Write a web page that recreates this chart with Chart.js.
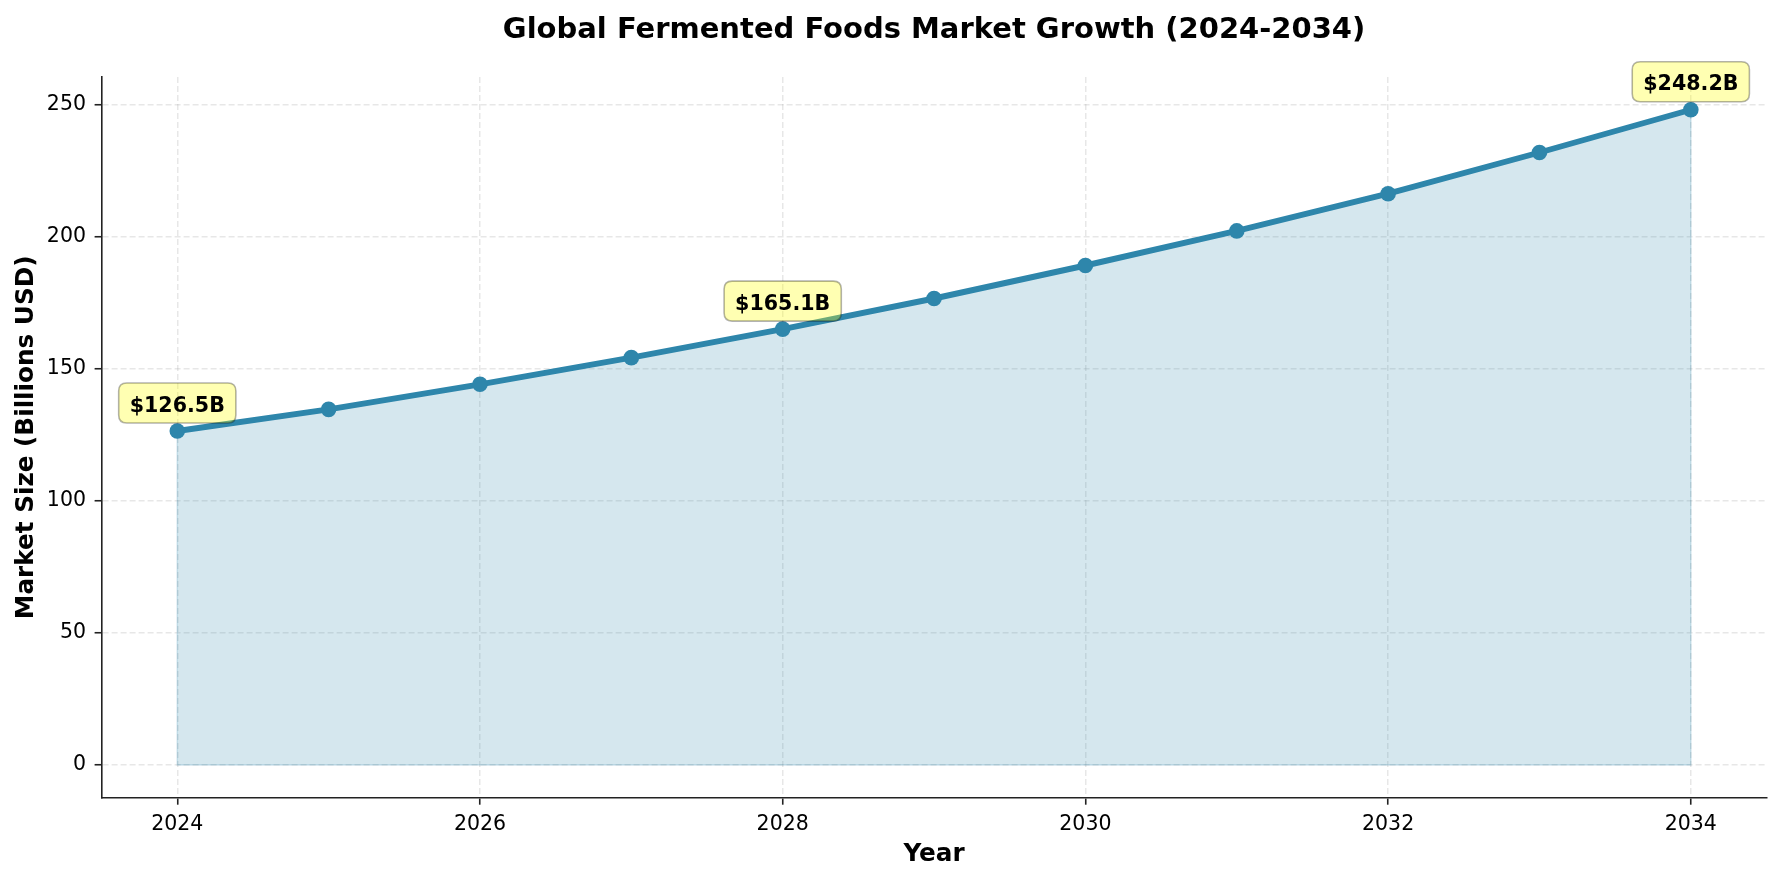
<!DOCTYPE html>
<html>
<head>
<meta charset="utf-8">
<script src="https://cdn.jsdelivr.net/npm/chart.js@4.4.1/dist/chart.umd.min.js"></script>
<style>
  html, body { margin: 0; padding: 0; background: #ffffff; }
  #wrap { width: 1782px; height: 880px; position: relative; }
  canvas { display: block; }
</style>
</head>
<body>
<div id="wrap"><canvas id="c" width="1782" height="880"></canvas></div>
<script>
// ---- data ----
const years = [2024, 2025, 2026, 2027, 2028, 2029, 2030, 2031, 2032, 2033, 2034];
const marketSize = [126.5, 134.7, 144.2, 154.3, 165.1, 176.7, 189.2, 202.3, 216.4, 232.0, 248.2];
const xTickValues = [2024, 2026, 2028, 2030, 2032, 2034];
const yTickValues = [0, 50, 100, 150, 200, 250];
const annotatedYears = [2024, 2028, 2034];
const chartTitle = 'Global Fermented Foods Market Growth (2024-2034)';
const xAxisTitle = 'Year';
const yAxisTitle = 'Market Size (Billions USD)';
const xRange = [2023.5, 2034.5];
const yRange = [-12.41, 260.61];

// ---- styles ----
const FONT = "'DejaVu Sans', 'Liberation Sans', sans-serif";
const LINE_COLOR = '#2E86AB';
const FILL_COLOR = 'rgba(46,134,171,0.2)';
const GRID_COLOR = 'rgba(170,170,170,0.28)';
const AXIS_COLOR = '#222222';
const TICK_FS = 20.5;
const LABEL_FS = 24.7;
const TITLE_FS = 29;
const ANN_FS = 20.6;

const points = years.map((y, i) => ({ x: y, y: marketSize[i] }));

const fillEdgePlugin = {
  id: 'fillEdge',
  beforeDatasetsDraw(chart) {
    const { ctx, scales: { x, y } } = chart;
    const x0 = x.getPixelForValue(years[0]);
    const x1 = x.getPixelForValue(years[years.length - 1]);
    const yz = y.getPixelForValue(0);
    ctx.save();
    ctx.strokeStyle = 'rgba(46,134,171,0.22)';
    ctx.lineWidth = 1.5;
    ctx.beginPath();
    ctx.moveTo(x0, y.getPixelForValue(marketSize[0]));
    ctx.lineTo(x0, yz);
    ctx.lineTo(x1, yz);
    ctx.lineTo(x1, y.getPixelForValue(marketSize[marketSize.length - 1]));
    ctx.stroke();
    ctx.restore();
  }
};

function roundRect(ctx, x, y, w, h, r) {
  ctx.beginPath();
  ctx.moveTo(x + r, y);
  ctx.lineTo(x + w - r, y);
  ctx.quadraticCurveTo(x + w, y, x + w, y + r);
  ctx.lineTo(x + w, y + h - r);
  ctx.quadraticCurveTo(x + w, y + h, x + w - r, y + h);
  ctx.lineTo(x + r, y + h);
  ctx.quadraticCurveTo(x, y + h, x, y + h - r);
  ctx.lineTo(x, y + r);
  ctx.quadraticCurveTo(x, y, x + r, y);
  ctx.closePath();
}

const annotationPlugin = {
  id: 'valueLabels',
  afterDatasetsDraw(chart) {
    const { ctx, scales: { x, y } } = chart;
    const fs = ANN_FS;
    ctx.save();
    ctx.font = 'bold ' + fs + 'px ' + FONT;
    annotatedYears.forEach(yr => {
      const i = years.indexOf(yr);
      const v = marketSize[i];
      const label = '$' + v.toFixed(1) + 'B';
      const px = x.getPixelForValue(yr);
      const py = y.getPixelForValue(v);
      const cy = py - 27;
      const tw = ctx.measureText(label).width;
      const bw = tw + 22;
      const bh = 40;
      roundRect(ctx, px - bw / 2, cy - 1 - bh / 2, bw, bh, 8);
      ctx.fillStyle = 'rgba(255,255,0,0.3)';
      ctx.fill();
      ctx.strokeStyle = 'rgba(0,0,0,0.3)';
      ctx.lineWidth = 1.6;
      ctx.stroke();
      ctx.fillStyle = '#000000';
      ctx.textAlign = 'center';
      ctx.textBaseline = 'alphabetic';
      ctx.fillText(label, px, cy + 0.729 * fs / 2);
    });
    ctx.restore();
  }
};

// Title centred over the plotting area (as in the reference)
const axesTitlePlugin = {
  id: 'axesTitle',
  afterDraw(chart) {
    const { ctx, chartArea } = chart;
    ctx.save();
    ctx.font = 'bold ' + TITLE_FS + 'px ' + FONT;
    ctx.fillStyle = '#000000';
    ctx.textAlign = 'center';
    ctx.textBaseline = 'middle';
    ctx.fillText(chartTitle, (chartArea.left + chartArea.right) / 2, 30.8);
    ctx.restore();
  }
};

const gridOpts = {
  color: GRID_COLOR,
  lineWidth: 1.5,
  drawTicks: true,
  tickLength: 7,
  tickWidth: 1.6,
  tickColor: AXIS_COLOR,
  tickBorderDash: []
};
const borderOpts = { display: true, color: AXIS_COLOR, width: 1.6, dash: [6, 3] };

new Chart(document.getElementById('c'), {
  type: 'line',
  data: {
    datasets: [{
      data: points,
      borderColor: LINE_COLOR,
      backgroundColor: FILL_COLOR,
      borderWidth: 5.9,
      fill: 'origin',
      tension: 0,
      pointRadius: 7.8,
      pointHoverRadius: 7.8,
      pointBackgroundColor: LINE_COLOR,
      pointBorderColor: LINE_COLOR,
      pointBorderWidth: 0
    }]
  },
  options: {
    responsive: false,
    animation: false,
    devicePixelRatio: 1,
    layout: { padding: { top: 77, right: 15.5, bottom: 0, left: 0 } },
    plugins: {
      legend: { display: false },
      tooltip: { enabled: false },
      title: { display: false }
    },
    scales: {
      x: {
        type: 'linear',
        min: xRange[0],
        max: xRange[1],
        afterBuildTicks: (scale) => { scale.ticks = xTickValues.map(v => ({ value: v })); },
        afterFit: (scale) => { scale.height = 82.3; },
        ticks: {
          color: '#000000',
          font: { family: FONT, size: TICK_FS },
          padding: 7.5,
          maxRotation: 0,
          autoSkip: false,
          callback: (v) => String(v)
        },
        grid: gridOpts,
        border: borderOpts,
        title: {
          display: true,
          text: xAxisTitle,
          color: '#000000',
          font: { family: FONT, size: LABEL_FS, weight: 'bold', lineHeight: 1.2 },
          padding: { top: 0, bottom: 10.8 }
        }
      },
      y: {
        type: 'linear',
        min: yRange[0],
        max: yRange[1],
        afterBuildTicks: (scale) => { scale.ticks = yTickValues.map(v => ({ value: v })); },
        afterFit: (scale) => { scale.width = 101.6; },
        ticks: {
          color: '#000000',
          font: { family: FONT, size: TICK_FS },
          padding: 8.6,
          callback: (v) => String(v)
        },
        grid: gridOpts,
        border: borderOpts,
        title: {
          display: true,
          text: yAxisTitle,
          color: '#000000',
          font: { family: FONT, size: LABEL_FS, weight: 'bold', lineHeight: 1.2 },
          padding: { top: 12.2, bottom: 0 }
        }
      }
    }
  },
  plugins: [fillEdgePlugin, annotationPlugin, axesTitlePlugin]
});
</script>
</body>
</html>
